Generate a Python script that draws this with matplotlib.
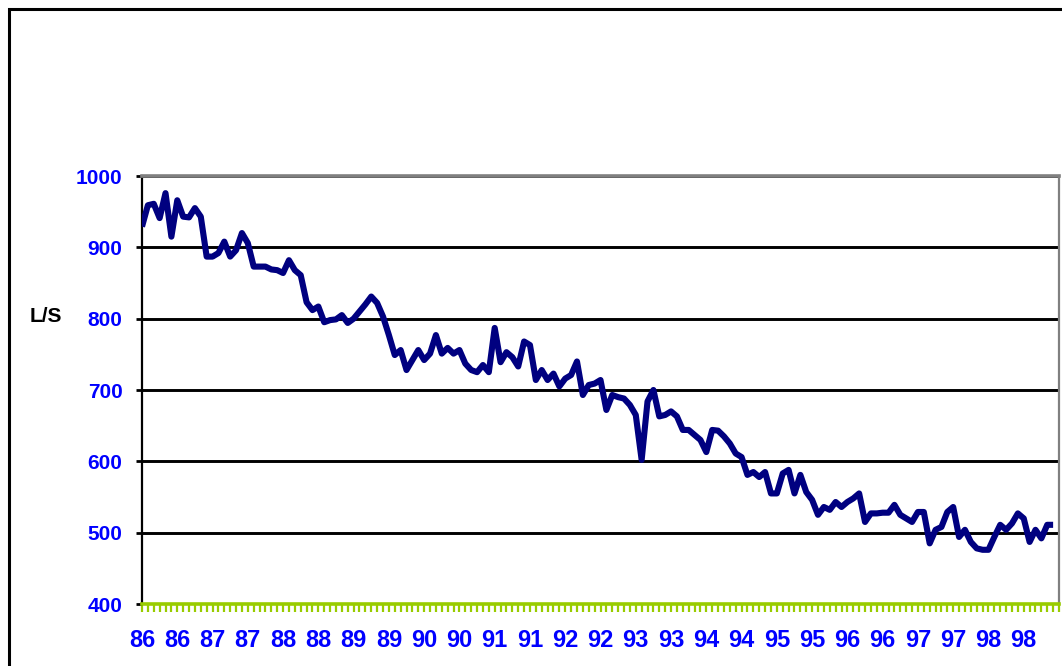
import numpy as np
import matplotlib
matplotlib.use("Agg")
import matplotlib.pyplot as plt
from matplotlib.patches import Rectangle

# monthly flow, Jan 86 .. Dec 98 (L/S)
flow = [929, 959, 961, 941, 976, 915, 966, 943, 942, 955, 943, 887,
        887, 892, 908, 887, 896, 920, 906, 873, 873, 873, 869, 868,
        864, 882, 868, 861, 823, 812, 817, 795, 798, 799, 805, 794,
        800, 810, 820, 831, 822, 803, 777, 749, 756, 728, 742, 756,
        742, 751, 777, 751, 759, 751, 756, 737, 728, 725, 735, 725,
        787, 739, 753, 746, 733, 768, 763, 714, 728, 714, 723, 705,
        716, 721, 740, 693, 707, 709, 714, 672, 693, 690, 688, 679,
        665, 602, 684, 700, 663, 665, 670, 663, 644, 644, 637, 630,
        613, 644, 643, 635, 625, 611, 606, 581, 585, 578, 585, 555,
        555, 583, 588, 555, 581, 557, 546, 525, 536, 532, 543, 536,
        543, 548, 555, 515, 527, 527, 528, 528, 539, 525, 520, 515,
        529, 529, 485, 504, 508, 529, 536, 494, 504, 487, 478, 476,
        476, 494, 511, 504, 513, 527, 520, 487, 504, 492, 511, 511]

x_labels = ['86', '86', '87', '87', '88', '88', '89', '89', '90', '90',
            '91', '91', '92', '92', '93', '93', '94', '94', '95', '95',
            '96', '96', '97', '97', '98', '98']
y_ticks = [400, 500, 600, 700, 800, 900, 1000]

fam = ['Liberation Sans', 'DejaVu Sans']
blue = '#0000FF'
green = '#99CC00'

fig = plt.figure(figsize=(10.62, 6.66), dpi=100)
ax = fig.add_axes([142/1062, 1 - 604/666, (1059-142)/1062, (604-176)/666])

months = np.arange(len(flow))
ax.plot(months, flow, color='#000080', linewidth=4.4, solid_joinstyle='round',
        solid_capstyle='butt', zorder=3)

ax.set_ylim(400, 1000)
ax.set_xlim(0, len(flow))
ax.set_yticks(y_ticks)
ax.set_yticklabels([str(v) for v in y_ticks], fontsize=15, fontweight='bold',
                   color=blue, family=fam)

ticks = np.arange(len(flow) + 1)
ax.set_xticks(ticks)
lab = [''] * len(ticks)
for k, s in enumerate(x_labels):
    lab[k * 6] = s
ax.set_xticklabels(lab, fontsize=17, fontweight='bold', color=blue, family=fam)

ax.tick_params(axis='x', direction='out', length=6, width=1.6, color=green, pad=12)
ax.tick_params(axis='y', direction='out', length=4, width=2, color='black', pad=10)

ax.grid(axis='y', color='black', linewidth=2.1)
ax.set_axisbelow(True)

ax.spines['left'].set_color('black')
ax.spines['left'].set_linewidth(1.6)
ax.spines['top'].set_color('#808080')
ax.spines['top'].set_linewidth(2.6)
ax.spines['right'].set_color('#808080')
ax.spines['right'].set_linewidth(1.6)
ax.spines['bottom'].set_color(green)
ax.spines['bottom'].set_linewidth(2.6)

fig.text(30/1062, 1 - 317/666, 'L/S', fontsize=15, fontweight='bold',
         family=fam, va='center', ha='left')

# outer chart frame (cut off at right and bottom)
fig.add_artist(Rectangle((9/1062, -0.2), 1.2, 1.2 - 9/666, transform=fig.transFigure,
                         fill=False, edgecolor='black', linewidth=2.2))

fig.savefig('out.png', dpi=100)
